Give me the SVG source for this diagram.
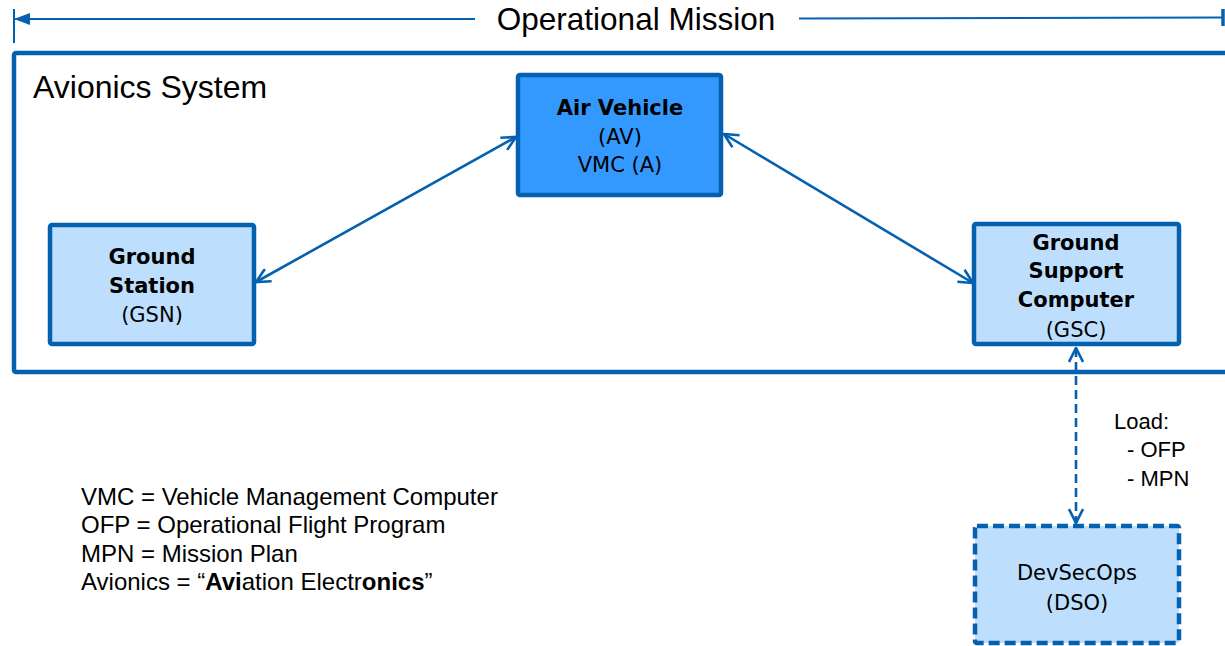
<svg xmlns="http://www.w3.org/2000/svg" width="1225" height="646" viewBox="0 0 1225 646">
  <defs>
    <marker id="open" viewBox="0 0 16 16" refX="15" refY="8" markerWidth="16" markerHeight="16" markerUnits="userSpaceOnUse" orient="auto-start-reverse">
      <path d="M1,1 L15,8 L1,15" fill="none" stroke="#0660B0" stroke-width="2.6" stroke-linejoin="miter"/>
    </marker>
    <marker id="solid" viewBox="0 0 16 12" refX="0" refY="6" markerWidth="16" markerHeight="12" markerUnits="userSpaceOnUse" orient="auto">
      <path d="M0,6 L16,0 L16,12 Z" fill="#0660B0"/>
    </marker>
  </defs>
  <style>
    .box { stroke: #0660B0; stroke-width: 4.5; }
    .light { fill: #BDDFFD; }
    .bright { fill: #3399FF; }
    .dash { stroke-dasharray: 11 5; }
    .node { font-family: "DejaVu Sans", Verdana, sans-serif; font-size: 21px; fill: #000; text-anchor: middle; }
    .b { font-weight: bold; }
    .lbl { font-family: "Liberation Sans", Arial, sans-serif; fill: #000; }
    .conn { stroke: #0660B0; stroke-width: 2.6; fill: none; }
    .dashed-conn { stroke-dasharray: 9 5; }
  </style>

  <rect width="1225" height="646" fill="#fff"/>

  <!-- mission span -->
  <g id="mission">
    <line x1="14" y1="9" x2="14" y2="43" stroke="#0660B0" stroke-width="2"/>
    <line x1="1223" y1="9" x2="1223" y2="26" stroke="#0660B0" stroke-width="3.5"/>
    <line x1="14" y1="19" x2="475" y2="19" stroke="#0660B0" stroke-width="2" marker-start="url(#solid)"/>
    <line x1="799" y1="18.5" x2="1223" y2="17.5" stroke="#0660B0" stroke-width="2"/>
    <text class="lbl" x="636" y="30" font-size="31.5" text-anchor="middle">Operational Mission</text>
  </g>

  <!-- system boundary -->
  <g id="avionics-system">
    <rect x="14" y="53" width="1240" height="319" rx="2" fill="none" class="box"/>
    <text class="lbl" x="33" y="98" font-size="32">Avionics System</text>
  </g>

  <g id="connectors">
    <line class="conn" x1="256" y1="282" x2="516" y2="137" marker-start="url(#open)" marker-end="url(#open)"/>
    <line class="conn" x1="724" y1="134" x2="973" y2="283" marker-start="url(#open)" marker-end="url(#open)"/>
    <line class="conn dashed-conn" x1="1076" y1="348" x2="1076" y2="523" marker-start="url(#open)" marker-end="url(#open)"/>
    <text class="lbl" font-size="22">
      <tspan x="1114" y="429">Load:</tspan>
      <tspan x="1127" y="457">- OFP</tspan>
      <tspan x="1127" y="486">- MPN</tspan>
    </text>
  </g>

  <g id="air-vehicle">
    <rect x="518" y="75" width="203" height="120" rx="2" class="box bright"/>
    <text class="node"><tspan class="b" x="620" y="115">Air Vehicle</tspan><tspan x="620" y="144">(AV)</tspan><tspan x="620" y="172">VMC (A)</tspan></text>
  </g>

  <g id="ground-station">
    <rect x="50" y="225" width="204" height="119" rx="2" class="box light"/>
    <text class="node"><tspan class="b" x="152" y="264">Ground</tspan><tspan class="b" x="152" y="293">Station</tspan><tspan x="152" y="322">(GSN)</tspan></text>
  </g>

  <g id="ground-support-computer">
    <rect x="974" y="224" width="205" height="120" rx="2" class="box light"/>
    <text class="node"><tspan class="b" x="1076" y="250">Ground</tspan><tspan class="b" x="1076" y="278">Support</tspan><tspan class="b" x="1076" y="307">Computer</tspan><tspan x="1076" y="337">(GSC)</tspan></text>
  </g>

  <g id="devsecops">
    <rect x="975" y="526" width="204" height="117" rx="2" class="box light dash"/>
    <text class="node" font-size="20"><tspan x="1077" y="580">DevSecOps</tspan><tspan x="1077" y="610">(DSO)</tspan></text>
  </g>

  <!-- abbreviations -->
  <g id="legend">
    <text class="lbl" font-size="24">
      <tspan x="81" y="505">VMC = Vehicle Management Computer</tspan>
      <tspan x="81" y="533">OFP = Operational Flight Program</tspan>
      <tspan x="81" y="562">MPN = Mission Plan</tspan>
      <tspan x="81" y="590">Avionics = “<tspan font-weight="bold">Avi</tspan>ation Electr<tspan font-weight="bold">onics</tspan>”</tspan>
    </text>
  </g>
</svg>
